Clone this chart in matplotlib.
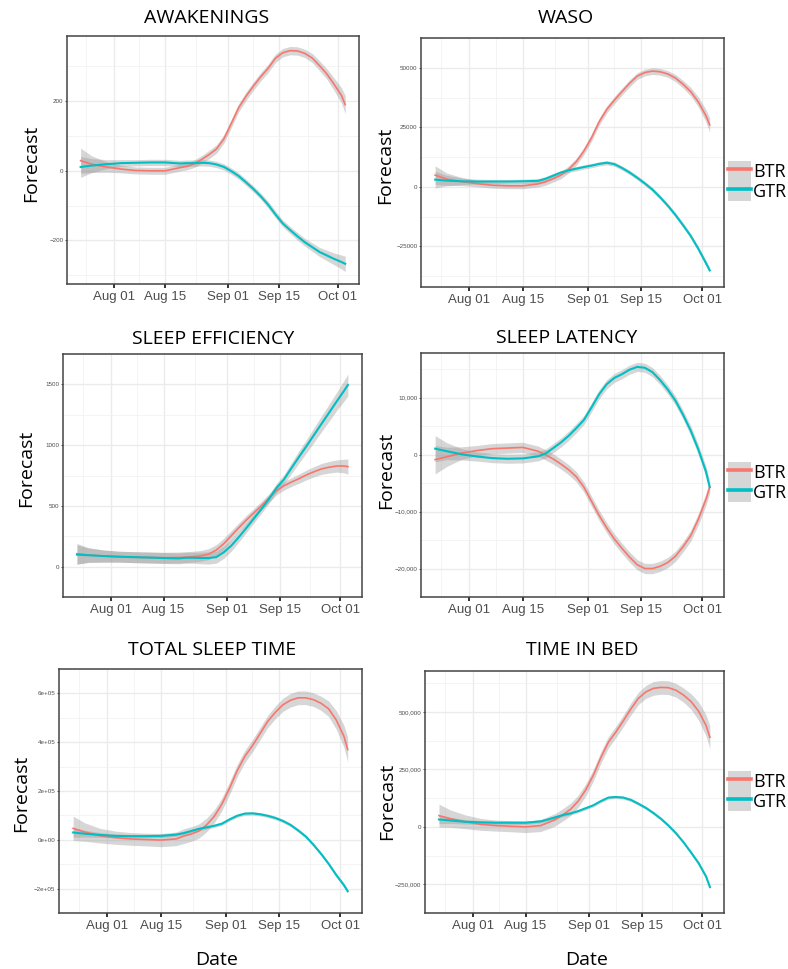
import numpy as np
import pandas as pd
import matplotlib
matplotlib.use('Agg')
import matplotlib.pyplot as plt
import matplotlib.dates as mdates
from matplotlib import font_manager as fm
from matplotlib.patches import Patch
from matplotlib.lines import Line2D

# ============================================
# Data
# ============================================
dates = pd.to_datetime([
    "2016-07-23", "2016-07-26", "2016-07-30", "2016-08-03", "2016-08-07", "2016-08-11", "2016-08-15",
    "2016-08-19", "2016-08-21", "2016-08-23", "2016-08-25", "2016-08-27", "2016-08-29", "2016-08-31",
    "2016-09-02", "2016-09-04", "2016-09-06", "2016-09-08", "2016-09-10", "2016-09-12", "2016-09-14",
    "2016-09-16", "2016-09-18", "2016-09-20", "2016-09-22", "2016-09-24", "2016-09-26", "2016-09-28",
    "2016-09-30", "2016-10-02", "2016-10-03"])

groups = ["BTR", "GTR"]

# AWAKENINGS
awk_btr = [29, 19, 11, 5, 1, 0, 0,
           9, 13, 21, 33, 47, 63, 92,
           136, 181, 214, 243, 270, 294, 323, 339, 345, 344, 337, 324, 302, 278, 248,
           216, 190]
awk_btr_band = [36, 24, 15, 11, 10, 10, 10,
                10, 10, 11, 11, 12, 12, 12,
                12, 12, 12, 12, 12, 12, 12, 12, 12, 12, 12, 13, 14, 15, 18,
                22, 26]
awk_gtr = [11, 15, 19, 22, 23, 24, 24,
           21, 22, 22, 23, 22, 18, 11,
           -1, -15, -33, -52, -73, -97, -125, -151, -170, -188, -205, -219, -233, -243, -253,
           -262, -267]
awk_gtr_band = [30, 20, 13, 10, 9, 9, 9,
                9, 9, 9, 9, 9, 9, 9,
                9, 9, 9, 9, 9, 10, 10, 10, 10, 11, 11, 12, 13, 15, 17,
                20, 22]

# WASO
waso_btr = [4900, 3200, 2200, 1300, 650, 400, 400,
            1200, 2100, 3400, 4900, 7300, 10500, 15000,
            20600, 27300, 32500, 36400, 40000, 43500, 46500, 48000, 48600, 48300, 47400, 45700,
            43100, 40000, 35700,
            29900, 26000]
waso_btr_band = [3900, 2600, 1700, 1300, 1200, 1200, 1200,
                 1300, 1400, 1400, 1500, 1500, 1500, 1500,
                 1500, 1500, 1500, 1500, 1500, 1500, 1400, 1400, 1400, 1400, 1400, 1500, 1600, 1800, 2100,
                 2600, 3000]
waso_gtr = [3000, 2600, 2300, 2200, 2200, 2200, 2300,
            2500, 3400, 4700, 6000, 6900, 7600, 8300,
            8900, 9600, 10100, 9500, 7900, 6000, 3800, 1400, -1200, -4400, -7900, -11800,
            -16100, -20600, -26000,
            -32000, -35100]
waso_gtr_band = [3500, 2200, 1400, 1000, 900, 900, 900,
                 900, 900, 900, 900, 900, 900, 900,
                 900, 900, 900, 900, 900, 900, 900, 900, 900, 900, 950, 1000, 1000, 1000, 1100,
                 1100, 1100]

# SLEEP EFFICIENCY
eff_btr = [106, 96, 87, 82, 78, 75, 73,
           75, 78, 82, 89, 103, 136, 188,
           254, 320, 383, 442, 501, 564, 625, 665, 696, 724, 755, 781, 804, 818, 828,
           828, 823]
eff_btr_band = [85, 60, 50, 45, 45, 45, 45,
                45, 45, 45, 45, 45, 45, 45,
                42, 40, 38, 36, 35, 35, 35, 35, 36, 38, 40, 42, 45, 48, 50,
                56, 62]
eff_gtr = [99, 94, 87, 82, 78, 75, 71,
           68, 73, 73, 71, 71, 78, 118,
           172, 242, 317, 395, 473, 555, 647, 717, 811, 903, 992, 1084, 1176, 1267, 1359,
           1448, 1495]
eff_gtr_band = [80, 60, 50, 45, 45, 45, 45,
                45, 45, 45, 48, 50, 50, 50,
                45, 40, 37, 35, 35, 35, 37, 40, 45, 50, 55, 60, 65, 70, 75,
                85, 90]

# SLEEP LATENCY
lat_btr = [-880, -390, 280, 720, 1050, 1160, 1270,
           600, -55, -770, -1660, -2650, -3870, -5690,
           -8180, -10660, -12870, -14810, -16460, -18010, -19340, -20000, -20000, -19610, -18950,
           -17850, -16190, -14250, -11380,
           -7900, -5690]
lat_btr_band = [2500, 1700, 1100, 900, 900, 900, 900,
                900, 900, 900, 900, 900, 900, 900,
                900, 900, 900, 900, 900, 900, 900, 900, 900, 900, 900, 900, 900, 950, 1000,
                1050, 1100]
lat_gtr = [1050, 610, 55, -330, -610, -720, -660,
           -300, 220, 1160, 2150, 3300, 4640, 6080,
           8290, 10600, 12380, 13480, 14140, 14920, 15410, 15250, 14480, 13090, 11440, 9500,
           7020, 4250, 940,
           -2930, -5690]
lat_gtr_band = [2300, 1500, 1000, 800, 800, 800, 800,
                800, 800, 800, 800, 800, 800, 800,
                800, 800, 800, 800, 800, 800, 800, 800, 800, 800, 800, 800, 800, 850, 900,
                950, 1000]

# TOTAL SLEEP TIME
tst_btr = [47000, 32000, 17000, 8700, 3700, 1200, -1200,
           3700, 15000, 23700, 36100, 61000, 95900, 145800,
           210600, 282800, 341400, 385000, 434900, 484700, 522100, 553200, 571900, 581900, 581900,
           574400, 559500, 537000, 490900,
           424900, 370000]
tst_btr_band = [50000, 38000, 30000, 27000, 26000, 26000, 27000,
                28000, 30000, 30000, 29000, 28000, 27000, 26000,
                26000, 25000, 25000, 25000, 25000, 25000, 26000, 27000, 28000, 28000, 28000, 28000,
                29000, 32000, 38000,
                45000, 50000]
tst_gtr = [30000, 25000, 20000, 16000, 15000, 15000, 16000,
           21200, 27400, 36100, 44900, 51100, 57300, 66000,
           83500, 98400, 107200, 108400, 104700, 98400, 89700, 77300, 61100, 38600, 13700, -19900,
           -57300, -98400, -144500,
           -185700, -210600]
tst_gtr_band = [20000, 14000, 10000, 8000, 7000, 7000, 7000,
                7000, 7000, 7000, 7000, 7000, 7000, 7000,
                7000, 7000, 7000, 7000, 7000, 7000, 7000, 7000, 7000, 7000, 7000, 7000, 7000, 7500, 8000,
                8500, 9000]

# TIME IN BED
tib_btr = [49000, 36000, 22000, 11000, 5600, 2800, 0,
           5600, 18200, 32200, 53200, 76900, 111900, 160900,
           223800, 300800, 367900, 412700, 461700, 513400, 559600, 587600, 603000, 607200, 605800,
           594600, 573600, 545600, 503600,
           440700, 390000]
tib_btr_band = [50000, 38000, 30000, 26000, 24000, 24000, 25000,
                26000, 27000, 27000, 27000, 27000, 26000, 26000,
                25000, 25000, 25000, 25000, 25000, 26000, 27000, 28000, 30000, 30000, 30000, 30000,
                31000, 34000, 40000,
                46000, 50000]
tib_gtr = [32000, 28000, 22000, 19600, 18000, 18000, 18000,
           23800, 32200, 42000, 51800, 58800, 68600, 81100,
           93700, 111900, 127300, 130100, 127300, 117500, 100700, 82500, 60200, 35000, 5600, -28000,
           -67200, -111900, -158100,
           -216800, -262000]
tib_gtr_band = [18000, 13000, 10000, 8000, 7000, 7000, 7000,
                7000, 7000, 7000, 7000, 7000, 7000, 7000,
                7000, 7000, 7000, 7000, 7000, 7000, 7000, 7000, 7000, 7000, 7000, 7000, 7000, 7500, 8000,
                8500, 9000]

# axis ticks
date_ticks = pd.to_datetime(["2016-08-01", "2016-08-15", "2016-09-01", "2016-09-15", "2016-10-01"])
date_minor = pd.to_datetime(["2016-07-24 12:00", "2016-08-08 00:00", "2016-08-23 12:00",
                             "2016-09-08 00:00", "2016-09-23 00:00"])

awk_ticks = [-200, 0, 200]
awk_labels = ["\u2212200", "0", "200"]
waso_ticks = [-25000, 0, 25000, 50000]
waso_labels = ["\u221225000", "0", "25000", "50000"]
eff_ticks = [0, 500, 1000, 1500]
eff_labels = ["0", "500", "1000", "1500"]
lat_ticks = [-20000, -10000, 0, 10000]
lat_labels = ["\u221220,000", "\u221210,000", "0", "10,000"]
tst_ticks = [-200000, 0, 200000, 400000, 600000]
tst_labels = ["\u22122e+05", "0e+00", "2e+05", "4e+05", "6e+05"]
tib_ticks = [-250000, 0, 250000, 500000]
tib_labels = ["\u2212250,000", "0", "250,000", "500,000"]

# ============================================
# Style
# ============================================
RED = '#F8766D'
TEAL = '#00BFC4'
names = {f.name for f in fm.fontManager.ttflist}
if 'Liberation Sans Narrow' in names:
    tick_font, tick_size = 'Liberation Sans Narrow', 11
else:
    tick_font, tick_size = 'Liberation Sans', 9.5
label_font = 'Open Sans'

W, H = 788, 969
fig = plt.figure(figsize=(W / 100, H / 100), dpi=100)


def px_axes(x0, y0, x1, y1):
    return fig.add_axes([x0 / W, 1 - y1 / H, (x1 - x0) / W, (y1 - y0) / H])


def px_text(x, y, s, **kw):
    fig.text(x / W, 1 - y / H, s, ha='center', va='center', family=label_font,
             color='black', **kw)


panels = [
    ("AWAKENINGS", (67, 36, 359, 284), (awk_btr, awk_btr_band, awk_gtr, awk_gtr_band),
     (-325, 387), awk_ticks, awk_labels, (207, 18), (31, 163), False, None),
    ("WASO", (421, 38, 724, 287), (waso_btr, waso_btr_band, waso_gtr, waso_gtr_band),
     (-42100, 54400), waso_ticks, waso_labels, (566, 18), (385, 165), False, 181),
    ("SLEEP EFFICIENCY", (63, 354, 362, 597), (eff_btr, eff_btr_band, eff_gtr, eff_gtr_band),
     (-56, 1657), eff_ticks, eff_labels, (213, 339), (26, 468), False, None),
    ("SLEEP LATENCY", (421, 353, 724, 597), (lat_btr, lat_btr_band, lat_gtr, lat_gtr_band),
     (-22600, 17850), lat_ticks, lat_labels, (567, 338), (386, 470), False, 482),
    ("TOTAL SLEEP TIME", (59, 669, 362, 913), (tst_btr, tst_btr_band, tst_gtr, tst_gtr_band),
     (-267000, 645000), tst_ticks, tst_labels, (212, 650), (21, 793), True, None),
    ("TIME IN BED", (425, 671, 724, 913), (tib_btr, tib_btr_band, tib_gtr, tib_gtr_band),
     (-338600, 678500), tib_ticks, tib_labels, (582, 650), (387, 801), True, 791),
]

for title, box, series, ylim, yt, ylab, tpos, fpos, has_date, leg_y in panels:
    ax = px_axes(*box)
    btr, btr_b, gtr, gtr_b = [np.array(s, dtype=float) for s in series]
    for y, b, col, lw in [(btr, btr_b, RED, 1.2), (gtr, gtr_b, TEAL, 1.5)]:
        ax.fill_between(dates, y - b, y + b, color='#999999', alpha=0.4, lw=0)
        ax.plot(dates, y, color=col, lw=lw, solid_joinstyle='round')

    ax.set_xlim(pd.Timestamp("2016-07-19 07:00"), pd.Timestamp("2016-10-06 18:00"))
    ax.set_ylim(*ylim)
    ax.set_xticks(date_ticks)
    ax.set_xticks(date_minor, minor=True)
    ax.xaxis.set_major_formatter(mdates.DateFormatter('%b %d'))
    ax.set_yticks(yt)
    ax.set_yticklabels(ylab)
    ax.set_yticks([(a + b) / 2 for a, b in zip(yt[:-1], yt[1:])] +
                  [yt[0] - (yt[1] - yt[0]) / 2, yt[-1] + (yt[1] - yt[0]) / 2], minor=True)
    ax.grid(which='major', color='#ebebeb', lw=1.0)
    ax.grid(which='minor', color='#f2f2f2', lw=0.6)
    ax.set_axisbelow(True)
    for sp in ax.spines.values():
        sp.set_color('#444444')
        sp.set_linewidth(1.1)
    ax.tick_params(axis='x', which='major', length=3, width=1.4, color='#333333',
                   labelsize=tick_size, labelcolor='#4d4d4d', pad=2)
    ax.tick_params(axis='y', which='major', length=1.5, width=0.6, color='#333333',
                   labelsize=4.5, labelcolor='#4d4d4d', pad=1)
    ax.tick_params(which='minor', length=0)
    for lb in ax.get_xticklabels():
        lb.set_family(tick_font)
    for lb in ax.get_yticklabels():
        lb.set_family('Liberation Sans')

    px_text(*tpos, title, fontsize=14)
    px_text(*fpos, "Forecast", fontsize=14, rotation=90)
    if has_date:
        px_text(tpos[0] + 5, 960, "Date", fontsize=14)

    if leg_y is not None:
        handles = [(Patch(facecolor='#999999', alpha=0.4, edgecolor='none'),
                    Line2D([], [], color=c, lw=2.6)) for c in (RED, TEAL)]
        fig.legend(handles, groups, loc='center left',
                   bbox_to_anchor=(728 / W, 1 - leg_y / H), frameon=False,
                   prop={'family': label_font, 'size': 13},
                   handlelength=1.3, handleheight=1.35, handletextpad=0.1,
                   labelspacing=0, borderpad=0, borderaxespad=0)

fig.savefig("out.png", dpi=100)
